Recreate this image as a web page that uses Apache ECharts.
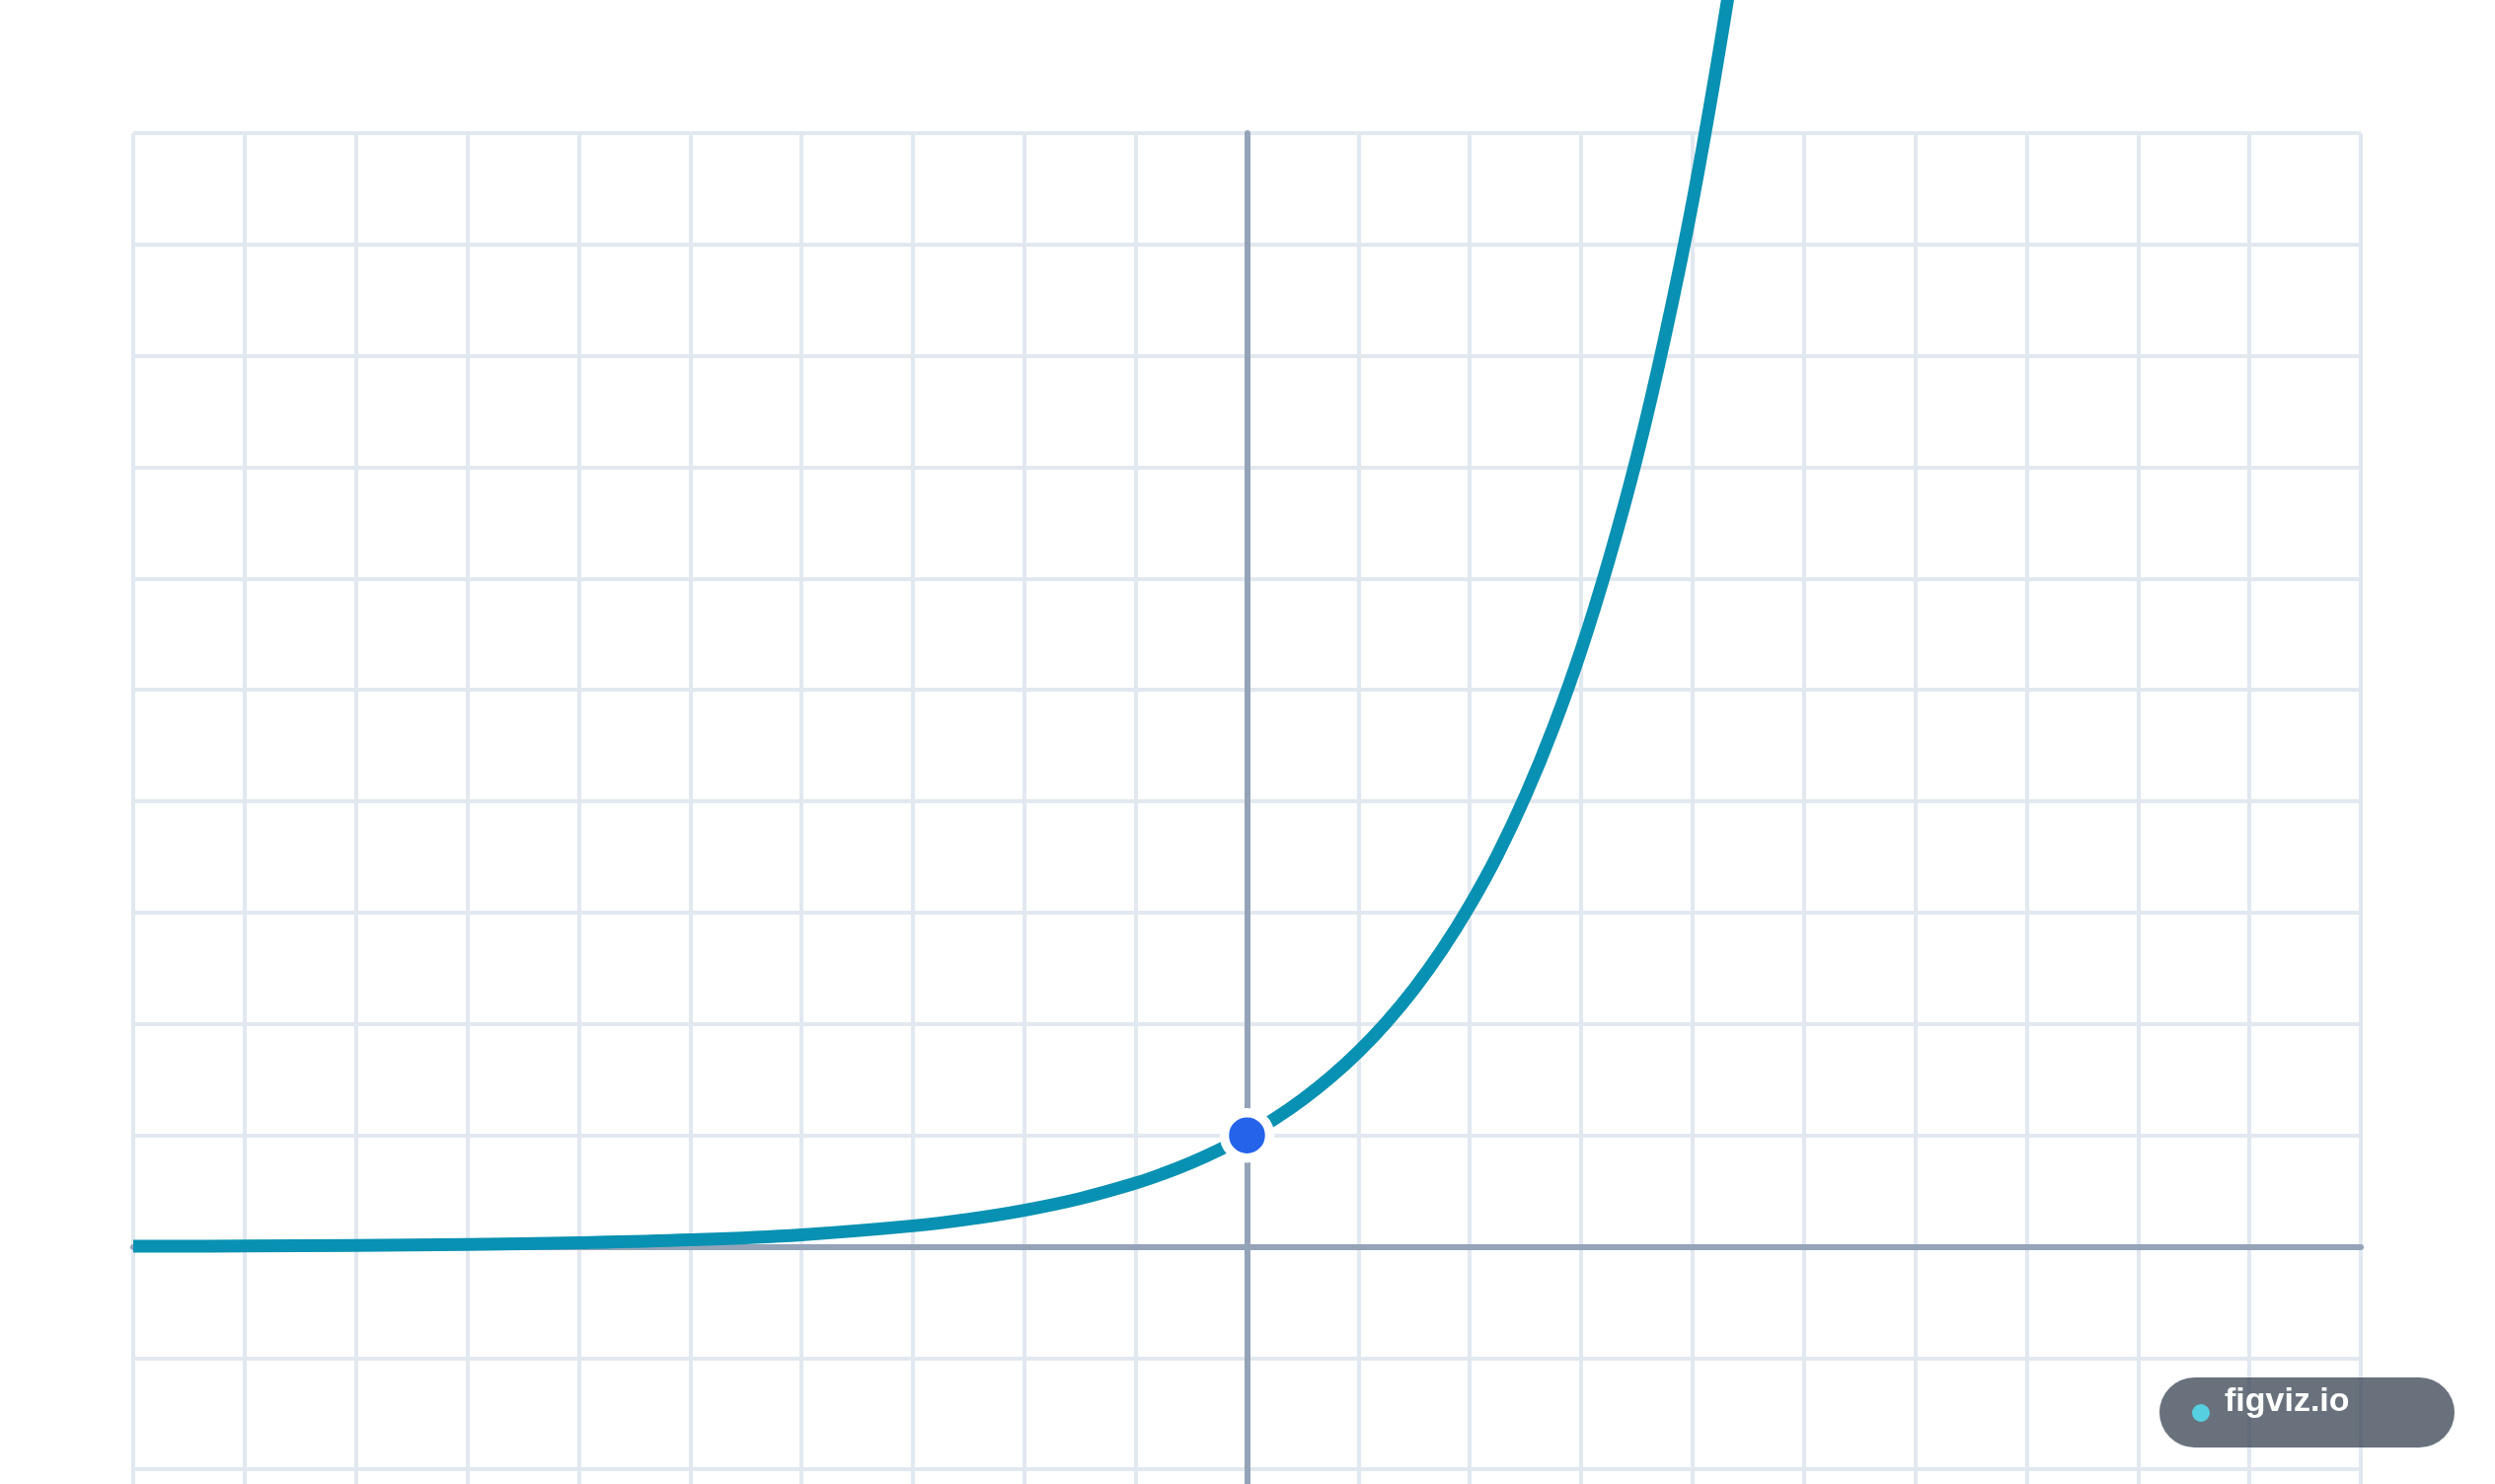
<!DOCTYPE html>
<html>
<head>
<meta charset="utf-8">
<style>
  html, body { margin: 0; padding: 0; background: #ffffff; overflow: hidden; }
  #chart { width: 2528px; height: 1800px; }
</style>
<script src="https://cdn.jsdelivr.net/npm/echarts@6/dist/echarts.min.js"></script>
</head>
<body>
<div id="chart"></div>
<script>
// Curve samples (x, y)
const curveX = [-10, -9, -8, -7, -6, -5, -4, -3, -2.5, -2, -1.5, -1, -0.75, -0.5, -0.25, 0, 0.25, 0.5, 0.75, 1, 1.25, 1.5, 1.75, 2, 2.25, 2.5, 2.75, 3, 3.25, 3.5, 3.75, 4, 4.25, 4.5];
const curveY = [0.004, 0.0065, 0.011, 0.02, 0.035, 0.061, 0.107, 0.187, 0.247, 0.327, 0.432, 0.571, 0.657, 0.756, 0.87, 1, 1.15, 1.323, 1.522, 1.75, 2.013, 2.315, 2.663, 3.063, 3.52, 4.05, 4.66, 5.36, 6.17, 7.09, 8.16, 9.38, 10.8, 12.4];
// Highlighted point
const pointX = [0];
const pointY = [1];
// Axis ranges
const xRange = [-10, 10];
const yRange = [-4, 10];
const watermarkText = 'figviz.io';

const chart = echarts.init(document.getElementById('chart'), null, { renderer: 'canvas' });

const cell = 112.85;
const gridColor = '#e2e8f0';
const axisColor = '#94a3b8';

const option = {
  backgroundColor: '#ffffff',
  animation: false,
  grid: {
    left: 135,
    top: 135,
    width: cell * (xRange[1] - xRange[0]),
    height: cell * (yRange[1] - yRange[0]),
    containLabel: false
  },
  xAxis: {
    type: 'value',
    min: xRange[0],
    max: xRange[1],
    interval: 1,
    axisLine: { show: true, onZero: true, lineStyle: { color: axisColor, width: 6 } },
    axisTick: { show: false },
    axisLabel: { show: false },
    splitLine: { show: true, showMinLine: true, showMaxLine: true, lineStyle: { color: gridColor, width: 4 } }
  },
  yAxis: {
    type: 'value',
    min: yRange[0],
    max: yRange[1],
    interval: 1,
    axisLine: { show: true, onZero: true, lineStyle: { color: axisColor, width: 6 } },
    axisTick: { show: false },
    axisLabel: { show: false },
    splitLine: { show: true, showMinLine: true, showMaxLine: true, lineStyle: { color: gridColor, width: 4 } }
  },
  series: [
    {
      type: 'line',
      data: curveX.map((x, i) => [x, curveY[i]]),
      smooth: 0.4,
      showSymbol: false,
      symbol: 'none',
      clip: false,
      lineStyle: { color: '#0891b2', width: 13, cap: 'butt', join: 'round' },
      emphasis: { disabled: true },
      z: 3
    },
    {
      type: 'scatter',
      data: pointX.map((x, i) => [x, pointY[i]]),
      symbol: 'circle',
      symbolSize: 46,
      itemStyle: { color: '#2563eb', borderColor: '#ffffff', borderWidth: 9.5, opacity: 1 },
      emphasis: { disabled: true },
      z: 5
    }
  ],
  graphic: [
    {
      type: 'rect',
      z: 100,
      shape: { x: 2188, y: 1396, width: 299, height: 71, r: 35.5 },
      style: { fill: 'rgba(55,65,81,0.75)' }
    },
    {
      type: 'circle',
      z: 101,
      shape: { cx: 2230, cy: 1432, r: 9 },
      style: { fill: '#56cfe1' }
    },
    {
      type: 'text',
      z: 101,
      style: {
        x: 2254,
        y: 1421,
        text: watermarkText,
        fill: '#ffffff',
        font: 'bold 34px "Liberation Sans", Arial, sans-serif',
        verticalAlign: 'middle',
        align: 'left'
      }
    }
  ]
};

chart.setOption(option);
</script>
</body>
</html>
